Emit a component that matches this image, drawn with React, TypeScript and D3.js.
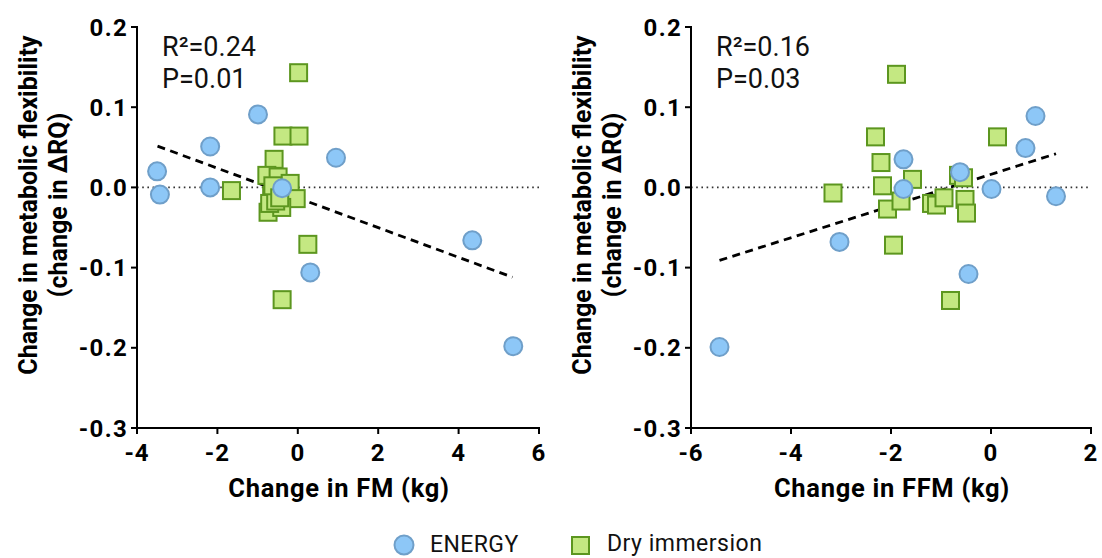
import React from 'react';
import * as d3 from 'd3';

// ---- Data ----
const fmEnergyX = [-3.5, -3.43, -2.18, -2.18, -0.99, -0.39, 0.95, 4.34, 0.31, 5.36];
const fmEnergyY = [0.02, -0.009, 0.051, 0.0, 0.091, -0.001, 0.037, -0.066, -0.106, -0.198];
const fmDryX = [0.02, -0.37, 0.03, -0.59, -0.77, -0.49, -0.19, -1.65, -0.65, -0.04, -0.74, -0.4, 0.25, -0.39, -0.7, -0.55, -0.62, -0.45];
const fmDryY = [0.143, 0.064, 0.064, 0.035, 0.015, 0.013, 0.005, -0.004, -0.01, -0.014, -0.031, -0.025, -0.071, -0.14, -0.02, -0.017, 0.002, -0.013];
const fmLineX = [-3.49, 5.34];
const fmLineY = [0.0515, -0.112];

const ffmEnergyX = [-1.75, -0.62, 0.89, 0.69, -1.75, 0.01, 1.3, -3.03, -0.45, -5.43];
const ffmEnergyY = [0.035, 0.019, 0.089, 0.049, -0.002, -0.002, -0.011, -0.068, -0.108, -0.199];
const ffmDryX = [-1.89, -2.31, 0.13, -2.2, -1.57, -3.16, -2.17, -0.65, -0.55, -2.07, -1.8, -1.19, -1.09, -0.94, -0.52, -0.49, -1.95, -0.81];
const ffmDryY = [0.141, 0.063, 0.063, 0.031, 0.01, -0.007, 0.002, 0.015, 0.012, -0.027, -0.017, -0.02, -0.022, -0.013, -0.015, -0.032, -0.072, -0.141];
const ffmLineX = [-5.43, 1.3];
const ffmLineY = [-0.091, 0.042];

const yTicks = [0.2, 0.1, 0.0, -0.1, -0.2, -0.3];
const yTickLabels = ['0.2', '0.1', '0.0', '-0.1', '-0.2', '-0.3'];
const fmTicks = [-4, -2, 0, 2, 4, 6];
const fmTickLabels = ['-4', '-2', '0', '2', '4', '6'];
const ffmTicks = [-6, -4, -2, 0, 2];
const ffmTickLabels = ['-6', '-4', '-2', '0', '2'];

const statsFM = ['R²=0.24', 'P=0.01'];
const statsFFM = ['R²=0.16', 'P=0.03'];
const seriesNames = ['ENERGY', 'Dry immersion'];

const BLUE_FILL = '#8dc7f7';
const BLUE_STROKE = '#6f9fc9';
const GREEN_FILL = '#c4e882';
const GREEN_STROKE = '#5c961f';
const FONT = 'Roboto, sans-serif';

type PanelProps = {
  left: number;
  right: number;
  domain: [number, number];
  ticks: number[];
  tickLabels: string[];
  energyX: number[];
  energyY: number[];
  dryX: number[];
  dryY: number[];
  lineX: number[];
  lineY: number[];
  stats: string[];
  xTitle: string;
};

const TOP = 27;
const BOTTOM = 428;

function Panel(p: PanelProps) {
  const x = d3.scaleLinear().domain(p.domain).range([p.left, p.right]);
  const y = d3.scaleLinear().domain([-0.3, 0.2]).range([BOTTOM, TOP]);
  const line = d3.line<number>().x((_, i) => x(p.lineX[i])).y((d) => y(d));
  const half = 8.5;
  return (
    <g>
      {/* zero reference */}
      <line x1={p.left} x2={p.right} y1={y(0)} y2={y(0)} stroke="#333" strokeWidth={1.6} strokeDasharray="1.6 3.6" />
      {/* axes */}
      <line x1={p.left} x2={p.left} y1={TOP - 1} y2={BOTTOM} stroke="#000" strokeWidth={2} />
      <line x1={p.left} x2={p.right + 1} y1={BOTTOM} y2={BOTTOM} stroke="#000" strokeWidth={2} />
      {yTicks.map((t, i) => (
        <g key={'y' + i}>
          <line x1={p.left - 6} x2={p.left} y1={y(t)} y2={y(t)} stroke="#000" strokeWidth={2} />
          <text x={p.left - 9} y={y(t)} dy="0.36em" textAnchor="end" fontFamily={FONT} fontWeight={700} fontSize={24} letterSpacing={1.3}>
            {yTickLabels[i]}
          </text>
        </g>
      ))}
      {p.ticks.map((t, i) => (
        <g key={'x' + i}>
          <line x1={x(t)} x2={x(t)} y1={BOTTOM} y2={BOTTOM + 6} stroke="#000" strokeWidth={2} />
          <text x={x(t)} y={461} textAnchor="middle" fontFamily={FONT} fontWeight={700} fontSize={24} letterSpacing={1}>
            {p.tickLabels[i]}
          </text>
        </g>
      ))}
      <text x={(p.left + p.right) / 2 + 1} y={497} textAnchor="middle" fontFamily={FONT} fontWeight={700} fontSize={25.5} letterSpacing={0.7}>
        {p.xTitle}
      </text>
      <g transform={`translate(${p.left - 100},205) rotate(-90)`}>
        <text x={0} y={0} textAnchor="middle" fontFamily={FONT} fontWeight={700} fontSize={25}>
          Change in metabolic flexibility
        </text>
        <text x={0} y={30} textAnchor="middle" fontFamily={FONT} fontWeight={700} fontSize={25}>
          (change in ΔRQ)
        </text>
      </g>
      {/* stats */}
      {p.stats.map((s, i) => (
        <text key={'s' + i} x={p.left + 25} y={56 + i * 32} fontFamily={FONT} fontSize={27} fill="#111">
          {s}
        </text>
      ))}
      {/* regression */}
      <path d={line(p.lineY) || ''} fill="none" stroke="#000" strokeWidth={2.8} strokeDasharray="8 5.5" />
      {/* dry immersion squares */}
      {p.dryX.map((v, i) => (
        <rect key={'d' + i} x={x(v) - half} y={y(p.dryY[i]) - half} width={half * 2} height={half * 2}
          fill={GREEN_FILL} stroke={GREEN_STROKE} strokeWidth={2} />
      ))}
      {/* energy circles */}
      {p.energyX.map((v, i) => (
        <circle key={'e' + i} cx={x(v)} cy={y(p.energyY[i])} r={9} fill={BLUE_FILL} stroke={BLUE_STROKE} strokeWidth={2} />
      ))}
    </g>
  );
}

export default function App() {
  return (
    <svg width={1102} height={558} style={{ position: 'absolute', left: 0, top: 0, background: '#fff' }}>
      <rect width={1102} height={558} fill="#fff" />
      <Panel left={137} right={539} domain={[-4, 6]} ticks={fmTicks} tickLabels={fmTickLabels}
        energyX={fmEnergyX} energyY={fmEnergyY} dryX={fmDryX} dryY={fmDryY}
        lineX={fmLineX} lineY={fmLineY} stats={statsFM} xTitle="Change in FM (kg)" />
      <Panel left={691} right={1091} domain={[-6, 2]} ticks={ffmTicks} tickLabels={ffmTickLabels}
        energyX={ffmEnergyX} energyY={ffmEnergyY} dryX={ffmDryX} dryY={ffmDryY}
        lineX={ffmLineX} lineY={ffmLineY} stats={statsFFM} xTitle="Change in FFM (kg)" />
      {/* legend */}
      <circle cx={404} cy={545} r={9.5} fill={BLUE_FILL} stroke={BLUE_STROKE} strokeWidth={2} />
      <text x={430} y={552} fontFamily={FONT} fontSize={23} letterSpacing={0.4} fill="#111">{seriesNames[0]}</text>
      <rect x={572} y={537} width={17} height={17} fill={GREEN_FILL} stroke={GREEN_STROKE} strokeWidth={2} />
      <text x={607} y={551} fontFamily={FONT} fontSize={23} letterSpacing={0.5} fill="#111">{seriesNames[1]}</text>
    </svg>
  );
}
